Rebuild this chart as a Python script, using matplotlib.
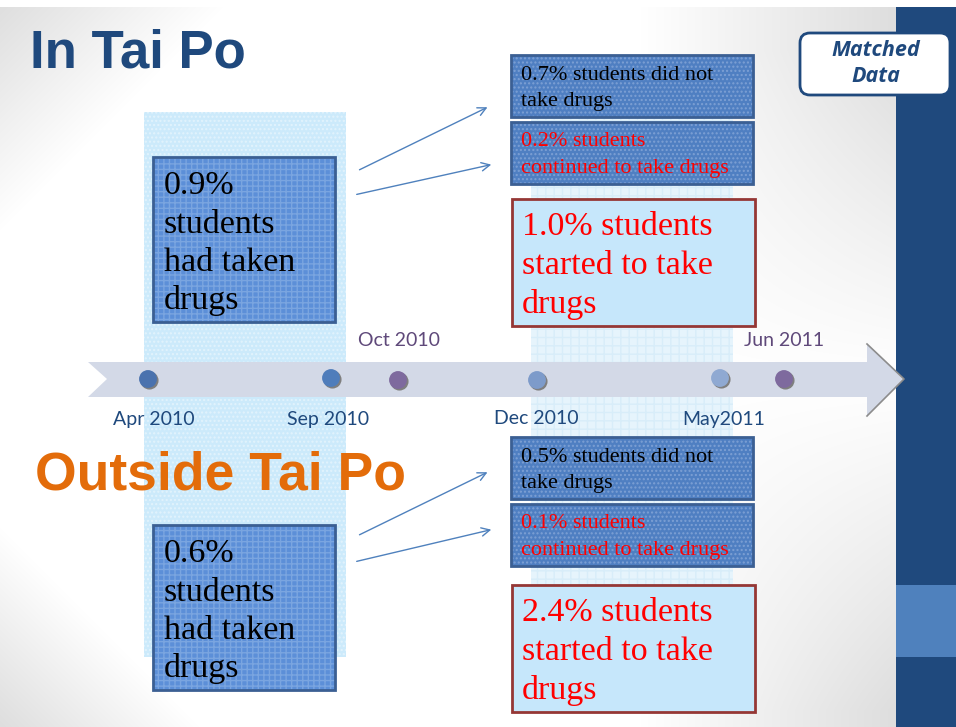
import numpy as np
import matplotlib
matplotlib.use("Agg")
import matplotlib.pyplot as plt
from matplotlib.patches import Rectangle, Polygon, FancyBboxPatch, FancyArrowPatch

# ---------------- data ----------------
regions = ["In Tai Po", "Outside Tai Po"]
had_taken = [0.9, 0.6]
did_not_take = [0.7, 0.5]
continued = [0.2, 0.1]
started = [1.0, 2.4]
timeline_labels = ["Apr 2010", "Sep 2010", "Oct 2010", "Dec 2010", "May2011", "Jun 2011"]
label_above = [False, False, True, False, False, True]

# ---------------- style ----------------
W, H = 956, 727
DARK = "#1F497D"
ORANGE = "#E36C0A"
PURPLE = "#5F497A"
RED = "#FF0000"
SERIF = "Liberation Serif"
SANS = "Lato"

fig = plt.figure(figsize=(W / 100, H / 100), dpi=100)
ax = fig.add_axes([0, 0, 1, 1])
ax.set_xlim(0, W)
ax.set_ylim(H, 0)
ax.axis("off")

# background gradient
yy, xx = np.mgrid[0:H, 0:W].astype(float)
g1 = np.clip(1 - (xx + yy) / 230.0, 0, 1)
g3 = np.clip(1 - (xx + (H - yy)) / 200.0, 0, 1)
g2 = np.clip((xx - 640) / 256.0, 0, 1) * np.clip(np.abs(yy - 380) / 330.0, 0, 1)
dark = 0.13 * np.maximum(np.maximum(g1, g3), g2)
bg = np.dstack([1 - dark] * 3)
bg[:7, :, :] = 1.0
ax.imshow(bg, extent=(0, W, H, 0), zorder=0, aspect="auto")

# side bar
ax.add_patch(Rectangle((896, 7), 60, H - 7, facecolor=DARK, edgecolor="none", zorder=1))
ax.add_patch(Rectangle((896, 585), 60, 72, facecolor="#4F81BD", edgecolor="none", zorder=1))

# light shaded columns
ax.add_patch(Rectangle((144, 112), 202, 545, facecolor="#CCEAFB", edgecolor="#E2F3FD",
                       hatch="....", linewidth=0, zorder=1))
ax.add_patch(Rectangle((531, 60), 202, 640, facecolor="#E6F4FC", edgecolor="#D8EDF9",
                       hatch="++", linewidth=0, zorder=1))

# timeline arrow
arrow_pts = [(88, 362), (867, 362), (867, 344), (904, 379), (867, 416), (867, 397), (88, 397), (107, 379)]
ax.add_patch(Polygon(arrow_pts, closed=True, facecolor="#D3D9E7", edgecolor="none", zorder=2))
ax.plot([867, 904, 867], [344, 379, 416], color="#8C8C8C", lw=1.2, zorder=2)

dot_x = [148, 331, 398, 537, 720, 784]
dot_y = [379, 378, 380, 380, 378, 379]
dot_c = ["#4A72AE", "#4F7DBB", "#7E6A9E", "#7D9BCA", "#8FA9D2", "#7E6A9E"]
ax.scatter([x + 1.5 for x in dot_x], [y + 1 for y in dot_y], s=170, color="#7F7F7F", zorder=3, linewidths=0)
ax.scatter(dot_x, dot_y, s=165, color=dot_c, zorder=4, linewidths=0)

lab_x = [154, 328, 399, 536, 724, 784]
for lx, lab, above in zip(lab_x, timeline_labels, label_above):
    ax.text(lx, 341 if above else 419, lab, ha="center", va="center",
            fontsize=14, family=SANS, color=PURPLE if above else DARK, zorder=5)

# titles
ax.text(30, 53, regions[0], fontsize=38, fontweight="bold", family="Liberation Sans",
        color=DARK, va="center", ha="left", zorder=5)
ax.text(35, 475, regions[1], fontsize=38.5, fontweight="bold", family="Liberation Sans",
        color=ORANGE, va="center", ha="left", zorder=5)

# Matched Data box
ax.add_patch(FancyBboxPatch((800, 33), 150, 62, boxstyle="round,pad=0,rounding_size=10",
                            facecolor="white", edgecolor=DARK, linewidth=2, zorder=5))
ax.text(876, 51, "Matched", ha="center", va="center", fontsize=15.5, fontweight="bold",
        style="italic", family="Open Sans", color=DARK, zorder=6)
ax.text(876, 76, "Data", ha="center", va="center", fontsize=15.5, fontweight="bold",
        style="italic", family="Open Sans", color=DARK, zorder=6)


def lines(x, y0, step, txt, size, color):
    for i, ln in enumerate(txt.split("\n")):
        ax.text(x, y0 + i * step, ln, ha="left", va="center", fontsize=size,
                family=SERIF, color=color, zorder=7)


def tex_box(x, y, w, h, face, hatchc, edge, lw=1.5, hatch="...."):
    ax.add_patch(Rectangle((x, y), w, h, facecolor=face, edgecolor=hatchc, hatch=hatch,
                           linewidth=0, zorder=5))
    ax.add_patch(Rectangle((x, y), w, h, facecolor="none", edgecolor=edge, linewidth=lw, zorder=6))


arrow_kw = dict(arrowstyle="->,head_length=6,head_width=3", color="#4F81BD", lw=1.0, zorder=6)

offsets = [0, 368]
for k in range(2):
    dy = offsets[k]
    # left box
    tex_box(153, 157 + dy, 182, 165, "#5C8FD8", "#7AA5E0", "#3B5F93", 2, hatch="+++")
    lines(164, 186 + dy, 38.3, f"{had_taken[k]:.1f}%\nstudents\nhad taken\ndrugs", 24.5, "black")
    # arrows
    ax.add_patch(FancyArrowPatch((357, 171 + dy - (3 if k else 0)), (490, 106 + dy - (3 if k else 0)), **arrow_kw))
    ax.add_patch(FancyArrowPatch((354, 195 + dy - (1 if k else 0)), (494, 164 + dy - (3 if k else 0)), **arrow_kw))
    # right boxes
    ya = 55 + dy + (14 if k else 0)
    tex_box(511, ya, 242, 62, "#4F7FC2", "#7DA0D4", "#3B5F93", 2)
    lines(521, ya + 21, 25.5, f"{did_not_take[k]:.1f}% students did not\ntake drugs", 16, "black")
    yb = 122 + dy + (14 if k else 0)
    tex_box(511, yb, 242, 62, "#4F7FC2", "#7DA0D4", "#3B5F93", 2)
    lines(521, yb + 20, 26, f"{continued[k]:.1f}% students\ncontinued to take drugs", 16, RED)
    yc = 199 + dy + (18 if k else 0)
    ax.add_patch(Rectangle((512, yc), 243, 127, facecolor="#C6E7FB", edgecolor="#953735",
                           linewidth=2, zorder=6))
    lines(522, yc + 28, 38.7, f"{started[k]:.1f}% students\nstarted to take\ndrugs", 24.5, RED)

fig.savefig("out.png", dpi=100)
